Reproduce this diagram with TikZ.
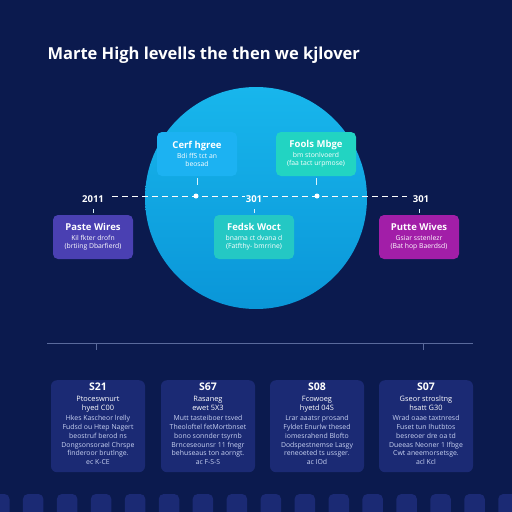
\documentclass[tikz,border=0pt]{standalone}
\usepackage{fontspec}
\setmainfont{Open Sans}
\definecolor{bgnavy}{HTML}{0B1A4E}
\definecolor{cardnavy}{HTML}{1B2A74}
\definecolor{globetop}{HTML}{18B6EC}
\definecolor{globebot}{HTML}{0A96D8}
\definecolor{globe}{HTML}{12A8E2}
\definecolor{skyblue}{HTML}{1CB2F2}
\definecolor{mint}{HTML}{22D4C2}
\definecolor{boxteal}{HTML}{24C8C4}
\definecolor{indigo}{HTML}{4A40B2}
\definecolor{boxmag}{HTML}{A21EA8}
\definecolor{rulegray}{HTML}{5A6A9C}
\definecolor{softtext}{HTML}{C8D2F2}

\begin{document}
\begin{tikzpicture}[x=1pt,y=-1pt]
  \tikzstyle{panel}=[rounded corners=5pt, inner sep=2pt, align=center, text=white, minimum width=80pt, minimum height=44pt, font=\fontsize{6.8}{8.6}\selectfont]
  \tikzstyle{card}=[fill=cardnavy, rounded corners=6pt, minimum width=94pt, minimum height=92pt, anchor=north]
  \tikzstyle{cardtext}=[anchor=north, align=center, inner sep=2pt, text=softtext, font=\fontsize{6.9}{8.7}\selectfont]
  \tikzstyle{year}=[text=white, inner sep=1pt, font=\bfseries\fontsize{9.5}{11}\selectfont]
  \tikzstyle{tick}=[draw=white!85!globe, line width=0.6pt]
  \tikzstyle{dot}=[fill=white, circle, inner sep=0pt, minimum size=5pt]

  \fill[bgnavy] (0,0) rectangle (512,512);
  \useasboundingbox (0,0) rectangle (512,512);

  % title
  \node[anchor=west, text=white, font=\bfseries\fontsize{16.5}{20}\selectfont] (title) at (44,55) {Marte High levells the then we kjlover};

  % globe behind the timeline
  \shade[top color=globetop, bottom color=globebot] (256,198) circle (111pt);

  % timeline
  \coordinate (dash-l) at (112,196);
  \coordinate (dash-r) at (407,196);
  \draw[white, dash pattern=on 6pt off 4pt, line width=0.8pt] (dash-l) -- (dash-r);
  \node[dot] (d1) at (196,196) {};
  \node[dot] (d2) at (317,196) {};

  \foreach \name/\txt/\x/\bg in {l/2011/93/bgnavy, c/301/254/globe, r/301/421/bgnavy}
    \node[year, fill=\bg] (Y-\name) at (\x,199) {\txt};

  % panels
  \foreach \name/\col/\x/\y/\hd/\lnA/\lnB in {tl/skyblue/197/154/Cerf hgree/Bdi ffS tct an/beosad,
      tr/mint/316/154/Fools Mbge/bm stonlvoerd/(faa tact urpmose),
      bl/indigo/93/237/Paste Wires/Kil fkter drofn/(brtiing Dbarfierd),
      bc/boxteal/254/237/Fedsk Woct/bnama ct dvana d/(Fatfthy- bmrrine),
      br/boxmag/419/237/Putte Wives/Gsiar sstenlezr/(Bat hop Baerdsd)}
    \node[panel, fill=\col] (G-\name) at (\x,\y) {{\bfseries\fontsize{9.5}{9}\selectfont \hd}\\[1pt] \lnA\\ \lnB};

  \foreach \name in {tl, tr}
    \draw[tick] ([yshift=-2pt]G-\name.south) -- ([yshift=-9pt]G-\name.south);
  \foreach \name in {bl, bc, br}
    \draw[tick] ([yshift=2pt]G-\name.north) -- ([yshift=6pt]G-\name.north);

  % lower rule
  \coordinate (rule-l) at (47,343);
  \coordinate (rule-r) at (473,343);
  \draw[rulegray, line width=1pt] (rule-l) -- (rule-r);
  \foreach \n/\x in {a/96, b/423} {
    \coordinate (R-\n) at (\x,343);
    \coordinate (R-\n-end) at (\x,350);
    \draw[rulegray, line width=0.8pt] (R-\n) -- (R-\n-end);
  }

  % cards
  \foreach \k/\x/\num/\hdA/\hdB/\lnA/\lnB/\lnC/\lnD/\lnE/\lnF in {
      1/98/S21/Ptoceswnurt/hyed C00/Hkes Kascheor lrelly/Fudsd ou Htep Nagert/beostruf berod ns/Dongsonsorael Chrspe/finderoor brutlnge./ec K-CE,
      2/208/S67/Rasaneg/ewet 5X3/Mutt tasteiboer tsved/Theoloftel fetMortbnset/bono sonnder tsyrnb/Brnceseounsr 11 fnegr/behuseaus ton aorngt./ac F-S-S,
      3/317/S08/Fcowoeg/hyetd 04S/Lrar aaatsr prosand/Fyldet Enurlw thesed/iomesrahend Blofto/Dodspestnemse Lasgy/reneoeted ts ussger./ac IOd,
      4/426/S07/Gseor strosltng/hsatt G30/Wrad oaae taxtnresd/Fuset tun Ihutbtos/besreoer dre oa td/Dueeas Neoner 1 Ifbge/Cwt aneemorsetsge./acl Kcl} {
    \node[card] (C-\k) at (\x,380) {};
    \node[cardtext] (C-\k-txt) at ([yshift=-1pt]C-\k.north) {{\color{white}\bfseries\fontsize{10.5}{11}\selectfont \num}\\[2pt] {\color{white}\fontsize{7.4}{8.5}\selectfont \hdA}\\ {\color{white}\fontsize{7.4}{8.5}\selectfont \hdB}\\[2pt] \lnA\\ \lnB\\ \lnC\\ \lnD\\ \lnE\\ \lnF};
  }

  % strip along the bottom
  \foreach \k in {0,...,15}
    \fill[cardnavy, rounded corners=5pt] ({-11+33.95*\k},494) rectangle ++(20.5,24);
\end{tikzpicture}
\end{document}
